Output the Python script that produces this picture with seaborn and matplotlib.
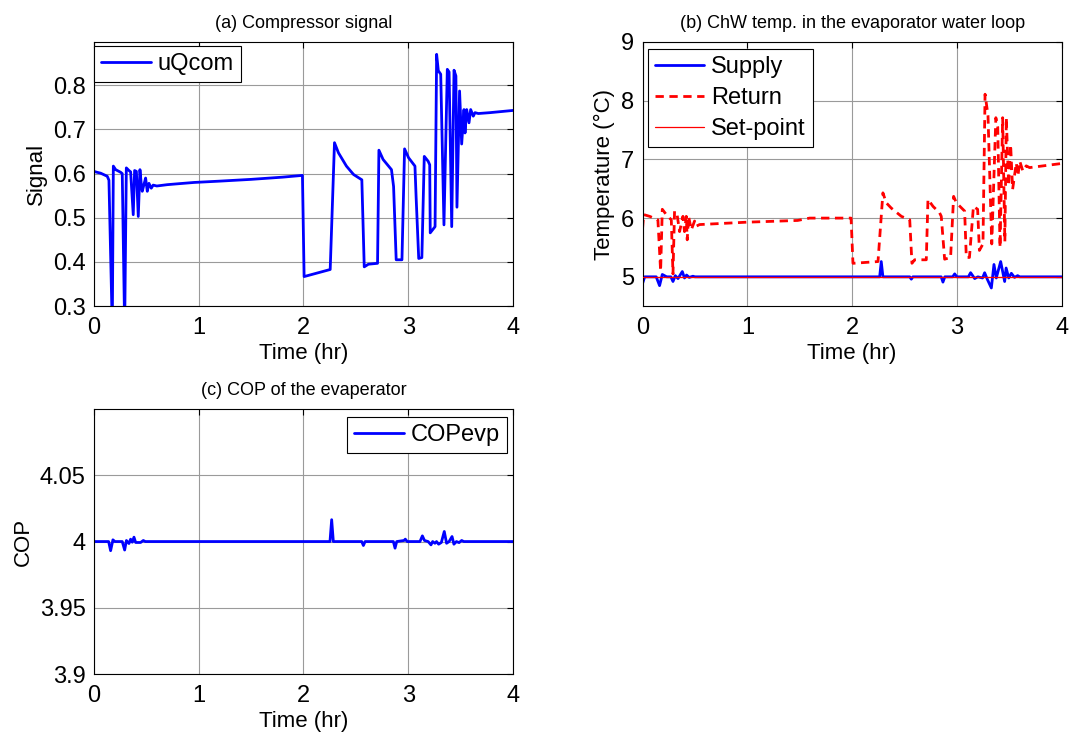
import matplotlib
matplotlib.use("Agg")
import matplotlib.pyplot as plt
import seaborn as sns
import pandas as pd

# ---------------- data ----------------
# (a) compressor signal uQcom
a_time = [0, 0.03, 0.064, 0.127, 0.143, 0.175, 0.185, 0.207, 0.255, 0.27,
          0.293, 0.309, 0.334, 0.35, 0.375, 0.388, 0.405, 0.423, 0.439, 0.45,
          0.461, 0.477, 0.493, 0.509, 0.525, 0.547, 0.565, 0.6, 0.7, 0.8,
          0.955, 1.2, 1.5, 1.8, 1.99, 2.006, 2.255, 2.296, 2.334, 2.41,
          2.478, 2.557, 2.58, 2.62, 2.707, 2.72, 2.76, 2.84, 2.86, 2.885,
          2.94, 2.965, 3.003, 3.064, 3.075, 3.1, 3.13, 3.153, 3.19, 3.205,
          3.21, 3.256, 3.271, 3.287, 3.31, 3.341, 3.373, 3.39, 3.415, 3.437,
          3.455, 3.465, 3.49, 3.51, 3.532, 3.542, 3.558, 3.58, 3.596, 3.621,
          3.637, 3.669, 3.78, 4.0]
a_uqcom = [0.605, 0.603, 0.601, 0.594, 0.585, 0.25, 0.617, 0.609, 0.603, 0.600,
           0.25, 0.613, 0.607, 0.604, 0.507, 0.607, 0.605, 0.503, 0.609, 0.58,
           0.56, 0.575, 0.59, 0.56, 0.578, 0.567, 0.574, 0.572, 0.575, 0.577,
           0.58, 0.583, 0.587, 0.592, 0.596, 0.367, 0.383, 0.670, 0.647, 0.617,
           0.598, 0.586, 0.389, 0.395, 0.397, 0.653, 0.632, 0.609, 0.571, 0.405,
           0.405, 0.656, 0.636, 0.617, 0.548, 0.408, 0.41, 0.639, 0.628, 0.62,
           0.466, 0.48, 0.87, 0.833, 0.825, 0.484, 0.836, 0.83, 0.480, 0.834,
           0.821, 0.524, 0.787, 0.667, 0.745, 0.692, 0.745, 0.715, 0.745, 0.73,
           0.738, 0.736, 0.738, 0.743]

# (b) chilled water temperatures
ret_time = [0, 0.01, 0.067, 0.146, 0.172, 0.188, 0.226, 0.274, 0.29, 0.305,
            0.33, 0.353, 0.385, 0.4, 0.417, 0.426, 0.439, 0.465, 0.496, 0.51,
            0.544, 0.99, 1.48, 1.594, 1.99, 2.008, 2.247, 2.294, 2.326, 2.374,
            2.47, 2.55, 2.571, 2.597, 2.708, 2.724, 2.772, 2.835, 2.851, 2.883,
            2.94, 2.969, 2.995, 3.074, 3.09, 3.12, 3.158, 3.198, 3.215, 3.249,
            3.269, 3.297, 3.333, 3.372, 3.39, 3.412, 3.437, 3.458, 3.472, 3.494,
            3.513, 3.532, 3.567, 3.583, 3.6, 3.63, 3.662, 3.694, 4.0]
ret_temp = [5.83, 6.06, 6.03, 5.97, 5.1, 6.15, 6.06, 5.97, 5.05, 6.12,
            6.05, 5.77, 6.03, 5.77, 6.03, 5.63, 6.03, 5.80, 5.95, 5.86,
            5.89, 5.93, 5.96, 6.0, 6.0, 5.23, 5.26, 6.43, 6.26, 6.17,
            6.03, 5.97, 5.23, 5.29, 5.29, 6.32, 6.2, 6.09, 6.03, 5.3,
            5.33, 6.37, 6.26, 6.12, 5.33, 5.33, 6.20, 6.15, 5.45, 5.56,
            8.11, 7.75, 5.56, 7.71, 7.55, 5.5, 7.71, 5.6, 7.71, 6.55,
            7.25, 6.49, 6.94, 6.72, 6.97, 6.8, 6.89, 6.86, 6.93]

sup_time = [0, 0.02, 0.13, 0.162, 0.188, 0.23, 0.27, 0.29, 0.312, 0.338,
            0.379, 0.4, 0.42, 0.445, 0.48, 0.5, 2.263, 2.278, 2.294, 2.55,
            2.565, 2.58, 2.85, 2.867, 2.885, 2.96, 2.979, 3.0, 3.11, 3.131,
            3.17, 3.2, 3.245, 3.265, 3.29, 3.329, 3.354, 3.376, 3.418, 3.456,
            3.47, 3.495, 3.52, 3.55, 3.58, 3.6, 4.0]
sup_temp = [4.89, 5.0, 5.0, 4.85, 5.04, 5.0, 5.0, 4.92, 5.02, 4.97,
            5.09, 4.98, 5.03, 4.99, 5.01, 5.0, 5.0, 5.26, 5.0, 5.0,
            4.96, 5.0, 5.0, 4.91, 5.0, 5.0, 5.05, 5.0, 5.0, 5.07,
            4.97, 5.0, 4.98, 5.07, 4.96, 4.81, 5.21, 4.98, 5.26, 4.92,
            5.15, 4.98, 5.06, 4.99, 5.02, 5.0, 5.0]

sp_time = [0, 4.0]
sp_temp = [5.0, 5.0]

# (c) COP of the evaporator
cop_time = [0, 0.14, 0.159, 0.181, 0.2, 0.27, 0.293, 0.31, 0.334, 0.35,
            0.366, 0.382, 0.398, 0.445, 0.471, 0.49, 2.253, 2.269, 2.285, 2.556,
            2.572, 2.588, 2.858, 2.874, 2.89, 2.96, 2.972, 2.99, 3.112, 3.135,
            3.155, 3.19, 3.217, 3.233, 3.255, 3.27, 3.29, 3.316, 3.344, 3.366,
            3.39, 3.418, 3.436, 3.46, 3.485, 3.51, 3.53, 4.0]
cop_val = [4.0, 4.0, 3.9931, 4.0013, 4.0, 4.0, 3.9936, 4.0008, 3.9985, 4.0018,
           3.9995, 4.0033, 3.9993, 3.9993, 4.0008, 4.0, 4.0, 4.0165, 4.0, 4.0,
           3.997, 4.0, 4.0, 3.995, 4.0, 4.0008, 4.0018, 4.0, 4.0, 4.0043,
           4.0008, 4.0, 3.9975, 4.0, 3.9987, 4.0, 3.998, 3.9993, 4.0076, 3.9987,
           4.0, 4.0038, 3.998, 4.0, 3.9992, 4.0008, 4.0, 4.0]

x_ticks = [0, 1, 2, 3, 4]
a_yticks = [0.3, 0.4, 0.5, 0.6, 0.7, 0.8]
b_yticks = [5, 6, 7, 8, 9]
c_yticks = [3.9, 3.95, 4.0, 4.05]
c_yticklabels = ["3.9", "3.95", "4", "4.05"]

# ---------------- style ----------------
sns.set_theme(style="white")
plt.rcParams['font.family'] = ['Liberation Sans', 'DejaVu Sans']
plt.rcParams['text.color'] = 'black'
plt.rcParams['axes.labelcolor'] = 'black'
plt.rcParams['xtick.color'] = 'black'
plt.rcParams['ytick.color'] = 'black'
TICK_FS = 17
LABEL_FS = 16
TITLE_FS = 13
LEG_FS = 17

fig = plt.figure(figsize=(10.8, 7.36), dpi=100)
fig.patch.set_facecolor("white")
ax_a = fig.add_axes([0.087, 0.584, 0.388, 0.359])
ax_b = fig.add_axes([0.595, 0.584, 0.388, 0.359])
ax_c = fig.add_axes([0.087, 0.0842, 0.388, 0.360])


def matlab_style(ax):
    ax.set_facecolor("white")
    for s in ax.spines.values():
        s.set_visible(True)
        s.set_color("black")
        s.set_linewidth(0.8)
    ax.grid(True, color="#9a9a9a", linewidth=0.8, linestyle="-")
    ax.set_axisbelow(True)
    ax.tick_params(direction="in", top=True, right=True, length=4, width=0.8,
                   colors="black", labelsize=TICK_FS)
    ax.tick_params(axis="x", pad=8)
    ax.tick_params(axis="y", pad=6)
    ax.set_xlim(0, 4)
    ax.set_xticks(x_ticks)
    ax.set_xticklabels([str(v) for v in x_ticks])
    ax.set_xlabel("Time (hr)", fontsize=LABEL_FS, labelpad=3, color="black")


def legend(ax, **kw):
    leg = ax.legend(fontsize=LEG_FS, frameon=True, fancybox=False,
                    edgecolor="black", framealpha=1, handlelength=2.1,
                    handletextpad=0.3, borderpad=0.3, labelspacing=0.37,
                    labelcolor="black", **kw)
    leg.get_frame().set_linewidth(0.8)
    return leg


# (a)
df_a = pd.DataFrame({"t": a_time, "v": a_uqcom})
sns.lineplot(data=df_a, x="t", y="v", ax=ax_a, color="#0000ff", linewidth=2,
             estimator=None, sort=False, label="uQcom")
matlab_style(ax_a)
ax_a.set_ylim(0.3, 0.898)
ax_a.set_yticks(a_yticks)
ax_a.set_yticklabels([f"{v:.1f}" for v in a_yticks])
ax_a.set_ylabel("Signal", fontsize=LABEL_FS, labelpad=4, color="black")
ax_a.set_title("(a) Compressor signal", fontsize=TITLE_FS, pad=10, color="black")
legend(ax_a, loc="upper left", bbox_to_anchor=(0.0, 0.985), borderaxespad=0)

# (b)
df_sup = pd.DataFrame({"t": sup_time, "v": sup_temp})
df_ret = pd.DataFrame({"t": ret_time, "v": ret_temp})
df_sp = pd.DataFrame({"t": sp_time, "v": sp_temp})
sns.lineplot(data=df_sup, x="t", y="v", ax=ax_b, color="#0000ff", linewidth=2,
             estimator=None, sort=False, label="Supply")
sns.lineplot(data=df_ret, x="t", y="v", ax=ax_b, color="#ff0000", linewidth=2,
             linestyle=(0, (3, 2)), estimator=None, sort=False, label="Return")
sns.lineplot(data=df_sp, x="t", y="v", ax=ax_b, color="#ff0000", linewidth=0.9,
             estimator=None, sort=False, label="Set-point")
sp_line = ax_b.get_lines()[-1]
sp_line.set_color("#ff0000")
sp_line.set_linewidth(0.9)
sp_line.set_zorder(5)
matlab_style(ax_b)
ax_b.set_ylim(4.5, 9)
ax_b.set_yticks(b_yticks)
ax_b.set_yticklabels([str(v) for v in b_yticks])
ax_b.set_ylabel("Temperature (°C)", fontsize=LABEL_FS, labelpad=4, color="black")
ax_b.set_title("(b) ChW temp. in the evaporator water loop", fontsize=TITLE_FS,
               pad=10, color="black")
legend(ax_b, loc="upper left", bbox_to_anchor=(0.012, 0.972), borderaxespad=0)

# (c)
df_c = pd.DataFrame({"t": cop_time, "v": cop_val})
sns.lineplot(data=df_c, x="t", y="v", ax=ax_c, color="#0000ff", linewidth=2,
             estimator=None, sort=False, label="COPevp")
matlab_style(ax_c)
ax_c.set_ylim(3.9, 4.1)
ax_c.set_yticks(c_yticks)
ax_c.set_yticklabels(c_yticklabels)
ax_c.set_ylabel("COP", fontsize=LABEL_FS, labelpad=4, color="black")
ax_c.set_title("(c) COP of the evaperator", fontsize=TITLE_FS, pad=10, color="black")
legend(ax_c, loc="upper right", bbox_to_anchor=(0.986, 0.97), borderaxespad=0)

fig.savefig("out.png", dpi=100, facecolor="white")
